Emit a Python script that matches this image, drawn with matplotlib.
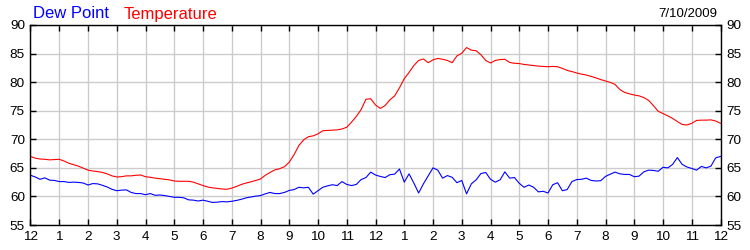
import numpy as np
import matplotlib
matplotlib.use("Agg")
import matplotlib.pyplot as plt

plt.rcParams['font.family'] = ['Liberation Sans', 'DejaVu Sans']

# readings every 10 minutes, midnight to midnight
temperature = [
    67.0, 66.7, 66.55, 66.5, 66.4, 66.45, 66.5, 66.2, 65.8, 65.55, 65.3, 64.95,
    64.6, 64.45, 64.35, 64.2, 63.95, 63.6, 63.4, 63.45, 63.6, 63.6, 63.7, 63.75,
    63.45, 63.35, 63.2, 63.1, 63.0, 62.9, 62.7, 62.65, 62.65, 62.65, 62.5, 62.2,
    61.9, 61.65, 61.5, 61.4, 61.3, 61.25, 61.45, 61.75, 62.1, 62.35, 62.55, 62.8,
    63.05, 63.7, 64.2, 64.65, 64.85, 65.2, 66.0, 67.3, 68.9, 69.9, 70.45, 70.6,
    70.95, 71.5, 71.55, 71.6, 71.65, 71.8, 72.1, 73.0, 74.0, 75.2, 77.0, 77.1,
    76.0, 75.4, 75.9, 76.9, 77.6, 79.0, 80.6, 81.7, 82.9, 83.8, 84.05, 83.4,
    83.9, 84.15, 84.0, 83.8, 83.4, 84.6, 85.05, 86.05, 85.6, 85.5, 84.8, 83.8,
    83.35, 83.8, 83.95, 84.0, 83.45, 83.3, 83.25, 83.1, 83.0, 82.9, 82.8, 82.75,
    82.7, 82.75, 82.7, 82.4, 82.05, 81.85, 81.6, 81.4, 81.25, 81.0, 80.75, 80.45,
    80.2, 79.95, 79.6, 78.7, 78.2, 77.95, 77.75, 77.6, 77.3, 76.8, 75.9, 74.9,
    74.5, 74.1, 73.65, 73.1, 72.6, 72.5, 72.8, 73.3, 73.35, 73.35, 73.4, 73.2,
    72.8,
]
dew_point = [
    63.7, 63.4, 63.0, 63.25, 62.85, 62.8, 62.6, 62.6, 62.45, 62.5, 62.45, 62.35,
    62.0, 62.25, 62.2, 61.95, 61.65, 61.25, 61.0, 61.1, 61.15, 60.7, 60.5, 60.5,
    60.3, 60.5, 60.2, 60.25, 60.15, 60.0, 59.85, 59.85, 59.75, 59.4, 59.35, 59.2,
    59.35, 59.15, 58.95, 59.0, 59.1, 59.05, 59.15, 59.3, 59.5, 59.75, 59.9, 60.05,
    60.15, 60.45, 60.7, 60.5, 60.5, 60.7, 61.05, 61.2, 61.6, 61.5, 61.6, 60.4,
    61.0, 61.6, 61.85, 62.05, 61.9, 62.6, 62.1, 61.9, 62.1, 62.95, 63.3, 64.25,
    63.75, 63.5, 63.3, 63.8, 63.9, 64.8, 62.5, 63.95, 62.35, 60.6, 62.2, 63.6,
    65.0, 64.6, 63.2, 63.65, 63.35, 62.4, 62.8, 60.45, 62.2, 62.9, 64.0, 64.2,
    63.0, 62.5, 62.9, 64.3, 63.2, 63.3, 62.3, 61.6, 62.0, 61.6, 60.8, 60.9,
    60.6, 62.05, 62.4, 61.0, 61.2, 62.6, 62.95, 63.0, 63.2, 62.8, 62.7, 62.75,
    63.5, 63.9, 64.25, 63.95, 63.85, 63.85, 63.45, 63.55, 64.3, 64.6, 64.55, 64.4,
    65.1, 65.0, 65.6, 66.8, 65.6, 65.15, 64.9, 64.6, 65.25, 65.0, 65.3, 66.75,
    67.0,
]
hour_labels = ['12'] + [str(i) for i in range(1, 12)] + ['12'] + [str(i) for i in range(1, 12)] + ['12']
temp_ticks = [55, 60, 65, 70, 75, 80, 85, 90]
date_label = '7/10/2009'

hours = np.arange(len(temperature)) / 6.0

fig = plt.figure(figsize=(7.5, 2.5), dpi=100)
ax = fig.add_axes([30.5 / 750, 0.1, 690 / 750, 0.8])

ax.plot(hours, temperature, color='red', lw=0.8)
ax.plot(hours, dew_point, color='blue', lw=0.8)

ax.set_xlim(0, 24)
ax.set_ylim(55, 90)
ax.set_xticks(range(25))
ax.set_xticklabels(hour_labels)
ax.set_yticks(temp_ticks)
ax.grid(True, color='#cccccc', lw=1)
ax.set_axisbelow(True)
ax.tick_params(direction='in', length=4, width=1, top=True, right=True,
               labelright=True, labelsize=9.7, pad=4)
for s in ax.spines.values():
    s.set_linewidth(1)

fig.text(33 / 750, 1 - 18.5 / 250, 'Dew Point', color='blue', fontsize=12, va='baseline')
fig.text(124 / 750, 1 - 18.5 / 250, 'Temperature', color='red', fontsize=12, va='baseline')
fig.text(717 / 750, 1 - 17 / 250, date_label, color='black', fontsize=9.5, ha='right', va='baseline')

plt.savefig('out.png', dpi=100)
